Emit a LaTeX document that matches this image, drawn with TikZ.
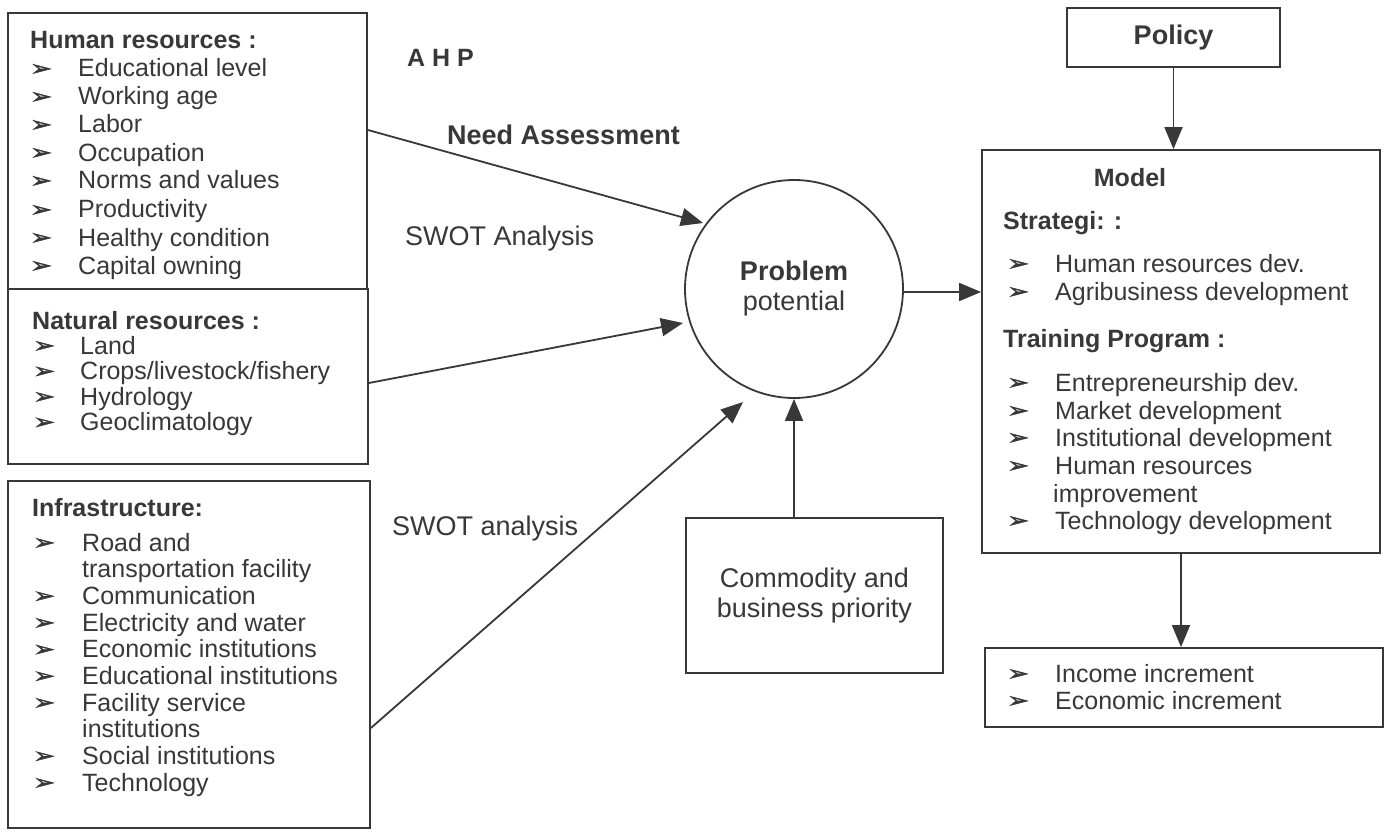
\documentclass[tikz,border=0pt]{standalone}
\usepackage{fontspec}
\setmainfont{Liberation Sans}
\newfontfamily\dingfont[FakeStretch=1.25,FakeBold=2]{DejaVu Sans}
\usetikzlibrary{arrows.meta,calc}
\definecolor{ink}{HTML}{383838}
\newcommand\arrowbullet{{\dingfont\fontsize{21}{21}\selectfont ➢}}
% one bulleted line: name, bullet x, text x, baseline y, text
\newcommand\lstline[5]{%
  \node[bulletsym] (#1b) at (#2,#4) {\arrowbullet};
  \node[listtext] (#1) at (#3,#4) {#5};}
\begin{document}
\begin{tikzpicture}[x=1pt,y=-1pt,
  frame/.style={draw=ink,line width=1.8pt,inner sep=0pt,text=ink},
  listtext/.style={font=\fontsize{25}{28}\selectfont,text=ink,inner sep=0pt,anchor=base west},
  listhead/.style={listtext,font=\fontsize{25}{28}\selectfont\bfseries},
  bulletsym/.style={text=ink,inner sep=0pt,anchor=base west,yshift=1.5pt},
  lbl/.style={font=\fontsize{27}{30}\selectfont,text=ink,inner sep=0pt,anchor=base west},
  arr/.style={draw=ink,line width=1.8pt,-{Triangle[length=22pt,width=18pt]}}]

\fill[white] (0,0) rectangle (1390,832);
\useasboundingbox (0,0) rectangle (1390,832);

% resource boxes on the left
\node[frame,minimum width=359pt,minimum height=276pt] (hr) at (187.5,151) {};
\node[frame,minimum width=360pt,minimum height=175pt] (nr) at (188,376.5) {};
\node[frame,minimum width=362pt,minimum height=347pt] (inf) at (189,654.5) {};

% human resources
\node[listhead] (hrt) at (30,49) {Human resources :};
\lstline{hr1}{30}{78}{77}{Educational level}
\lstline{hr2}{30}{78}{105}{Working age}
\lstline{hr3}{30}{78}{133}{Labor}
\lstline{hr4}{30}{78}{161}{Occupation}
\lstline{hr5}{30}{78}{189}{Norms and values}
\lstline{hr6}{30}{78}{218}{Productivity}
\lstline{hr7}{30}{78}{246}{Healthy condition}
\lstline{hr8}{30}{78}{274}{Capital owning}

% natural resources
\node[listhead] (nrt) at (32,329) {Natural resources :};
\lstline{nr1}{33}{80}{354}{Land}
\lstline{nr2}{33}{80}{379.5}{Crops/livestock/fishery}
\lstline{nr3}{33}{80}{405}{Hydrology}
\lstline{nr4}{33}{80}{430.5}{Geoclimatology}

% infrastructure
\node[listhead] (inft) at (32,516) {Infrastructure:};
\lstline{in1}{33}{82}{551}{Road and}
\node[listtext] (in1c) at (82,577.7) {transportation facility};
\lstline{in2}{33}{82}{604.3}{Communication}
\lstline{in3}{33}{82}{631}{Electricity and water}
\lstline{in4}{33}{82}{657.7}{Economic institutions}
\lstline{in5}{33}{82}{684.3}{Educational institutions}
\lstline{in6}{33}{82}{711}{Facility service}
\node[listtext] (in6c) at (82,737.7) {institutions};
\lstline{in7}{33}{82}{764.3}{Social institutions}
\lstline{in8}{33}{82}{791}{Technology}

% centre
\node[frame,circle,minimum size=218pt,align=center,font=\fontsize{27}{30}\selectfont] (circ) at (794,289) {\textbf{Problem}\\potential};
\node[frame,minimum width=257pt,minimum height=155pt,align=center,font=\fontsize{27}{30}\selectfont] (comm) at (814.5,595.5) {Commodity and\\business priority};

% method labels
\node[lbl,font=\fontsize{25}{28}\selectfont\bfseries] (ahp) at (407,67) {A H P};
\node[lbl,font=\fontsize{27}{30}\selectfont\bfseries] (need) at (447,145) {Need Assessment};
\node[lbl] (swot1) at (405,245) {SWOT Analysis};
\node[lbl] (swot2) at (392,535) {SWOT analysis};

% right column
\node[frame,minimum width=213pt,minimum height=59pt,font=\fontsize{27}{30}\selectfont\bfseries] (policy) at (1173.5,37.5) {Policy};
\node[frame,minimum width=398pt,minimum height=403pt] (model) at (1181,351.5) {};
\node[frame,minimum width=398pt,minimum height=79pt] (out) at (1184,687.5) {};

\node[listhead,anchor=base] (modt) at (1130,186) {Model};
\node[listhead] (strt) at (1003,229) {Strategi: :};
\lstline{st1}{1007}{1055}{272}{Human resources dev.}
\lstline{st2}{1007}{1055}{300}{Agribusiness development}
\node[listhead] (trt) at (1003,347) {Training Program :};
\lstline{tr1}{1007}{1055}{391}{Entrepreneurship dev.}
\lstline{tr2}{1007}{1055}{419}{Market development}
\lstline{tr3}{1007}{1055}{446}{Institutional development}
\lstline{tr4}{1007}{1055}{474}{Human resources}
\node[listtext] (tr4c) at (1053,502) {improvement};
\lstline{tr5}{1007}{1055}{529}{Technology development}

\lstline{ou1}{1007}{1055}{682}{Income increment}
\lstline{ou2}{1007}{1055}{709}{Economic increment}

% connector end points
\coordinate (hrout) at ([yshift=21pt]hr.east);
\coordinate (nrout) at ([yshift=-6.5pt]nr.east);
\coordinate (infout) at ([yshift=-73.5pt]inf.east);
\coordinate (tip1) at ($(circ.center)+(-91,-66)$);
\coordinate (tip2) at ($(circ.center)+(-111,34)$);
\coordinate (tip3) at ($(circ.center)+(-51,113)$);

% connectors
\draw[arr] (hrout) -- (tip1);
\draw[arr] (nrout) -- (tip2);
\draw[arr] (infout) -- (tip3);
\draw[arr] (circ.center |- comm.north) -- (circ.south);
\draw[arr] ([yshift=-3pt]circ.east) -- ([yshift=-3pt]circ.east -| model.west);
\draw[arr] (policy.south) -- (policy.south |- model.north);
\draw[arr] (model.south) -- (model.south |- out.north);
\end{tikzpicture}
\end{document}
